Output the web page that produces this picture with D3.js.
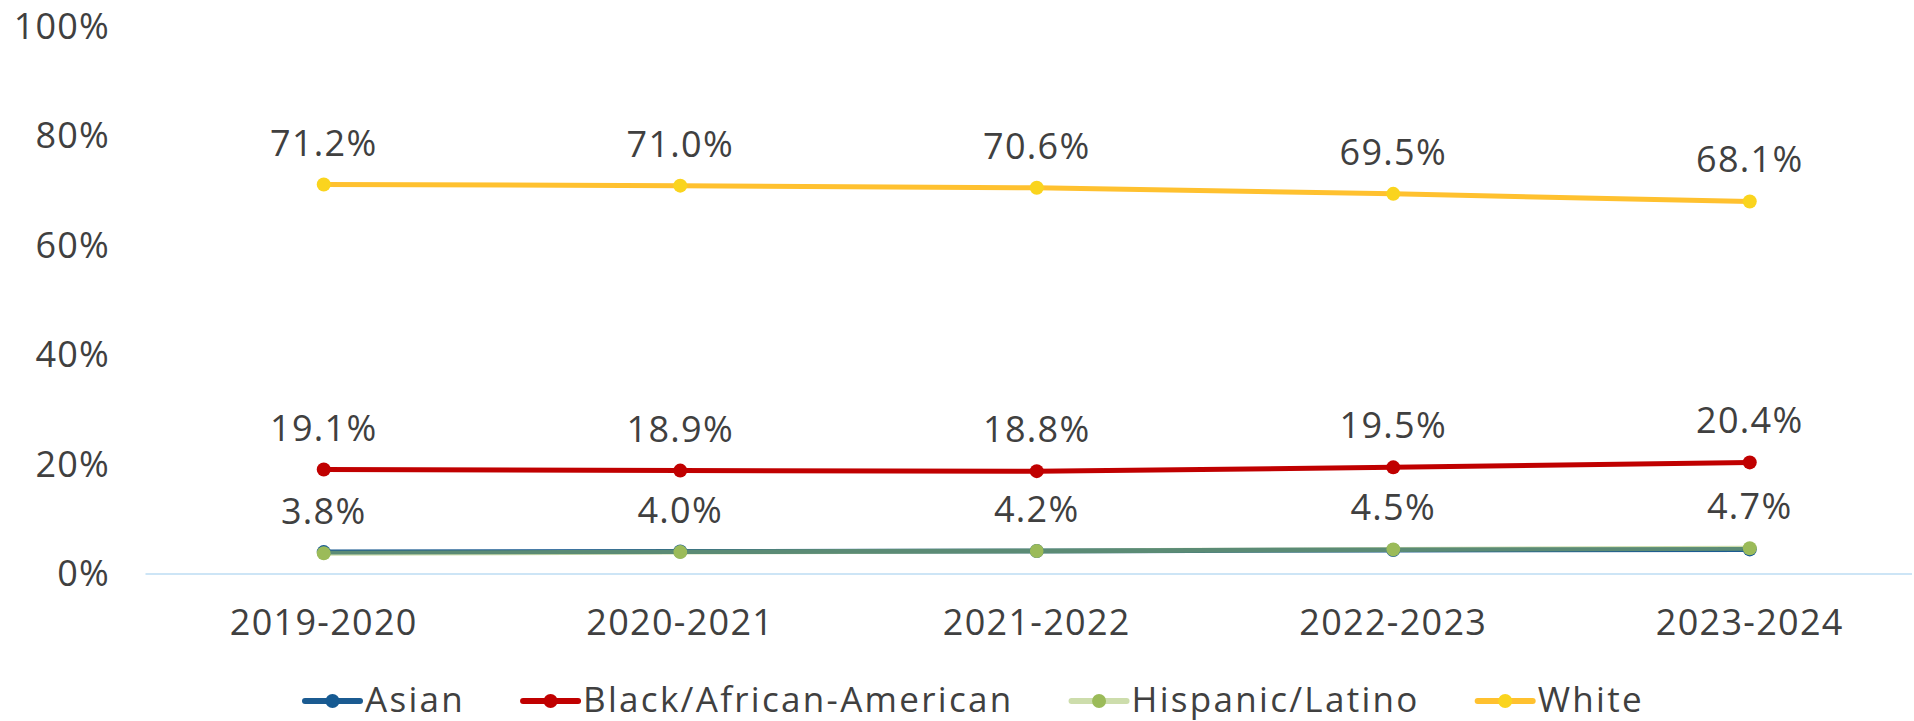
<!DOCTYPE html>
<html>
<head>
<meta charset="utf-8">
<script src="https://cdn.jsdelivr.net/npm/d3@7"></script>
<style>
  html, body { margin: 0; padding: 0; background: #ffffff; }
  svg { display: block; }
  text { font-family: "Open Sans", "DejaVu Sans", sans-serif; fill: #404040; }
</style>
</head>
<body>
<svg id="chart" width="1914" height="721"></svg>
<script>
// School years on the x axis
const years = ["2019-2020", "2020-2021", "2021-2022", "2022-2023", "2023-2024"];

// Share of enrollment by race/ethnicity (percent)
const asian    = [4.0, 4.1, 4.2, 4.4, 4.5];
const black    = [19.1, 18.9, 18.8, 19.5, 20.4];
const hispanic = [3.8, 4.0, 4.2, 4.5, 4.7];
const white    = [71.2, 71.0, 70.6, 69.5, 68.1];

const yTicks = [0, 20, 40, 60, 80, 100];

const series = [
  { name: "Asian", values: asian, line: "#1b5b91", lineOpacity: 1, dot: "#165a92", labels: false },
  { name: "Black/African-American", values: black, line: "#c00000", lineOpacity: 1, dot: "#c00000", labels: true },
  { name: "Hispanic/Latino", values: hispanic, line: "#9bbb59", lineOpacity: 0.5, dot: "#9bbb59", labels: true },
  { name: "White", values: white, line: "#ffc12f", lineOpacity: 1, dot: "#fad41e", labels: true }
];

const FONT = "'Open Sans', 'DejaVu Sans', sans-serif";
const svg = d3.select("#chart");

const x = d3.scaleBand().domain(years).range([145.5, 1928]).padding(0);
const y = d3.scaleLinear().domain([0, 100]).range([574, 27]);
const cx = d => x(d) + x.bandwidth() / 2;

// Y axis labels (no axis line, no gridlines)
const yAxis = d3.axisLeft(y).tickValues(yTicks).tickFormat(d => d + "%").tickSize(0).tickPadding(0);
const gy = svg.append("g").attr("transform", "translate(110,0)").call(yAxis);
gy.select(".domain").remove();
gy.selectAll("text").style("font-size", "36px").style("letter-spacing", "1.2px")
  .attr("fill", "#404040").style("font-family", FONT);

// Category axis baseline and labels
const xAxis = d3.axisBottom(x).tickSize(0).tickPadding(0);
const gx = svg.append("g").attr("transform", `translate(0,${y(0)})`).call(xAxis);
gx.select(".domain").attr("stroke", "#cde5f6").attr("stroke-width", 2)
  .attr("d", `M145.5,0H1912`);
gx.selectAll("text").style("font-size", "36px").style("letter-spacing", "1.3px")
  .attr("fill", "#404040").style("font-family", FONT)
  .attr("dy", null).attr("y", 61);

const lineGen = d3.line().x((v, i) => cx(years[i])).y(v => y(v));

// Lines
series.forEach(s => {
  svg.append("path")
    .datum(s.values)
    .attr("d", lineGen)
    .attr("fill", "none")
    .attr("stroke", s.line)
    .attr("stroke-opacity", s.lineOpacity)
    .attr("stroke-width", 5)
    .attr("stroke-linecap", "round");
});

// Markers
series.forEach(s => {
  svg.append("g").selectAll("circle")
    .data(s.values)
    .join("circle")
    .attr("cx", (v, i) => cx(years[i]))
    .attr("cy", v => y(v))
    .attr("r", 7)
    .attr("fill", s.dot);
});

// Value labels
series.filter(s => s.labels).forEach(s => {
  svg.append("g").selectAll("text")
    .data(s.values)
    .join("text")
    .attr("x", (v, i) => cx(years[i]))
    .attr("y", v => y(v) - 29)
    .attr("text-anchor", "middle")
    .style("font-size", "36px")
    .style("letter-spacing", "1.3px")
    .text(v => v.toFixed(1) + "%");
});

// Legend
const legend = svg.append("g").attr("transform", "translate(305,701)");
let lx = 0;
series.forEach(s => {
  const g = legend.append("g").attr("transform", `translate(${lx},0)`);
  g.append("line").attr("x1", 0).attr("x2", 55).attr("y1", 0).attr("y2", 0)
    .attr("stroke", s.line).attr("stroke-opacity", s.lineOpacity)
    .attr("stroke-width", 6).attr("stroke-linecap", "round");
  g.append("circle").attr("cx", 27.5).attr("cy", 0).attr("r", 7).attr("fill", s.dot);
  const t = g.append("text").attr("x", 60).attr("y", 11)
    .style("font-size", "35px").style("letter-spacing", "2.3px").text(s.name);
  lx += 60 + t.node().getComputedTextLength() + 58;
});
</script>
</body>
</html>
